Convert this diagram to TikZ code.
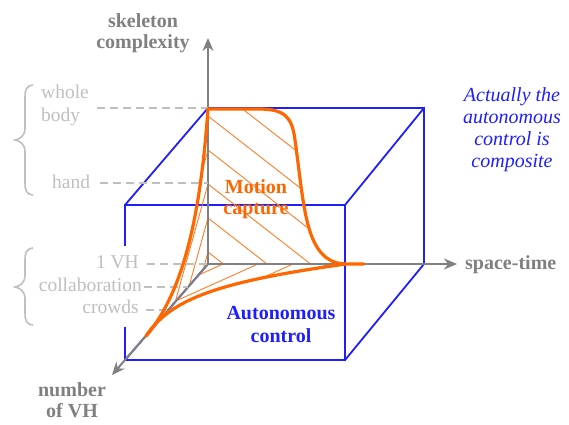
\documentclass[tikz,border=0pt]{standalone}
\usepackage{fontspec}
\setmainfont{Liberation Serif}
\usetikzlibrary{arrows.meta}
\definecolor{axisgray}{RGB}{128,128,128}
\definecolor{lvlgray}{RGB}{191,191,191}
\definecolor{cubeblue}{RGB}{30,30,255}
\definecolor{mocap}{RGB}{255,102,0}
\begin{document}
\begin{tikzpicture}[x=1pt,y=-1pt,
  axis/.style={draw=axisgray,line width=2pt,-{Stealth[length=13pt,width=11pt]}},
  cube/.style={draw=cubeblue,line width=1.8pt},
  mcurve/.style={draw=mocap,line width=3.2pt,line cap=round},
  hatch/.style={draw=mocap!85,line width=0.9pt},
  guide/.style={draw=lvlgray,line width=1.8pt,dash pattern=on 8pt off 5pt},
  bracestyle/.style={draw=lvlgray,line width=1.6pt},
  axlabel/.style={text=axisgray,font=\fontsize{20}{21}\selectfont\bfseries,align=center,inner sep=0pt},
  lvl/.style={text=lvlgray,font=\fontsize{19.5}{23}\selectfont,inner sep=0pt},
  region/.style={font=\fontsize{20}{21.5}\selectfont\bfseries,align=center,inner sep=0pt}
]
\useasboundingbox (0,0) rectangle (569,424);
% key points
\coordinate (O) at (208,264);
\coordinate (Ytip) at (208,38);
\coordinate (Xtip) at (457,264);
\coordinate (Ztip) at (112,375);
\coordinate (B1) at (208,108);
\coordinate (B2) at (424,108);
\coordinate (B3) at (424,264);
\coordinate (F1) at (125,205);
\coordinate (F2) at (345,205);
\coordinate (F3) at (345,360);
\coordinate (F4) at (125,360);
\coordinate (T) at (208,109);
\coordinate (P) at (146,336);
\coordinate (E) at (346,264);
\coordinate (Eend) at (364,264);
% cube
\draw[cube] (B1) -- (B2) -- (B3) -- (O);
\draw[cube] (F1) -- (F2) -- (F3) -- (F4) -- cycle;
\draw[cube] (F1) -- (B1);
\draw[cube] (F2) -- (B2);
\draw[cube] (F3) -- (B3);
\draw[cube] (F4) -- (O);
% white backing of the lower labels
\fill[white] (8,246) rectangle (141,327);
% hatching: motion capture region
\begin{scope}
\clip (T) -- (258,109) .. controls (284,109) and (292,116) .. (295,140)
  .. controls (300,175) and (303,215) .. (312,237)
  .. controls (320,257) and (332,264) .. (E) -- (O) -- cycle;
\foreach \c in {82,116,150,184,218,252}
  \draw[hatch] (208,\c) -- ++(200,156);
\end{scope}
% hatching: wedge left of the vertical axis
\begin{scope}
\clip (T) .. controls (202,190) and (190,285) .. (P) -- (O) -- cycle;
\foreach \c in {150,184,218,252}
  \draw[hatch] (208,\c) -- ++(-50,180);
\end{scope}
% hatching: lower region
\begin{scope}
\clip (O) -- (P) .. controls (170,300) and (215,282) .. (E) -- cycle;
\foreach \c in {223,258,293,328}
  \draw[hatch] (\c,264) -- ++(-200,90);
\end{scope}
% axes
\draw[axis] (O) -- (Ytip);
\draw[axis] (O) -- (Xtip);
\draw[axis] (O) -- (Ztip);
% guides
\coordinate (gW) at (97,108);
\coordinate (gH) at (100,183);
\coordinate (gH2) at (208,183);
\coordinate (gV) at (147,264);
\coordinate (gC) at (144,287);
\coordinate (gC2) at (188,287);
\coordinate (gR) at (146,310);
\coordinate (gR2) at (168,310);
\draw[guide] (gW) -- (B1);
\draw[guide] (gH) -- (gH2);
\draw[guide] (gV) -- (O);
\draw[guide] (gC) -- (gC2);
\draw[guide] (gR) -- (gR2);
% braces
\draw[bracestyle] (33,85) .. controls (26,86) and (25,90) .. (25,97) -- (25,128)
  .. controls (25,136) and (20,139) .. (15,140) .. controls (20,141) and (25,144) .. (25,152)
  -- (25,183) .. controls (25,190) and (26,194) .. (33,195);
\draw[bracestyle] (33,248) .. controls (26,249) and (25,253) .. (25,260) -- (25,275)
  .. controls (25,283) and (20,286) .. (15,287) .. controls (20,288) and (25,291) .. (25,299)
  -- (25,313) .. controls (25,320) and (26,324) .. (33,325);
% orange curves
\draw[mcurve] (T) -- (258,109) .. controls (284,109) and (292,116) .. (295,140)
  .. controls (300,175) and (303,215) .. (312,237)
  .. controls (320,257) and (332,264) .. (E) -- (Eend);
\draw[mcurve] (T) .. controls (202,190) and (190,285) .. (P);
\draw[mcurve] (P) .. controls (170,300) and (215,282) .. (E);
% labels
\node[axlabel] (ylab) at (143,33) {skeleton\\complexity};
\node[axlabel,anchor=base west] (xlab) at (465,269) {space-time};
\node[axlabel] (zlab) at (72,400) {number\\of VH};
\node[lvl,align=left,anchor=west] (lwb) at (41,105) {whole\\body};
\node[lvl,anchor=base west] (lhand) at (52,188) {hand};
\node[lvl,anchor=base east] (l1vh) at (139,268) {1 VH};
\node[lvl,anchor=base east] (lcol) at (142,291) {collaboration};
\node[lvl,anchor=base east] (lcrowd) at (139,313) {crowds};
\node[region,text=mocap] (mc) at (256,199) {Motion\\capture};
\node[region,text=cubeblue,font=\fontsize{20}{23}\selectfont\bfseries] (ac) at (281,324) {Autonomous\\control};
\node[text=cubeblue,font=\fontsize{20}{22}\selectfont\itshape,align=center,inner sep=0pt] (note) at (512,129.5) {Actually the\\autonomous\\control is\\composite};
\end{tikzpicture}
\end{document}
